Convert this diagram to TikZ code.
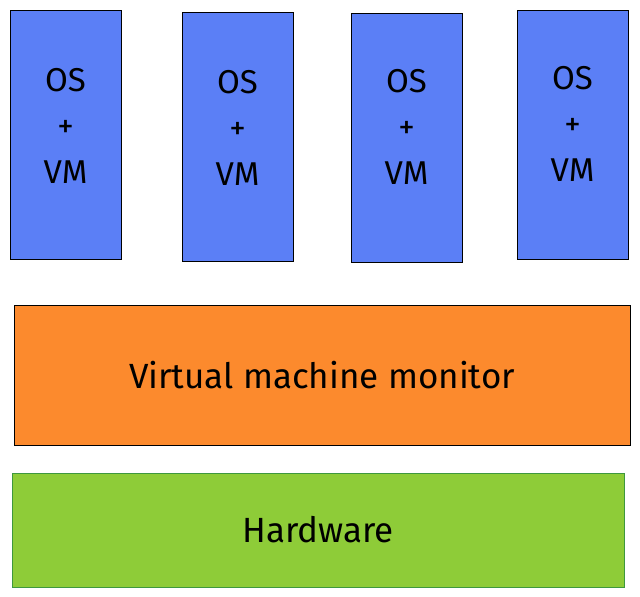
\documentclass[tikz,border=0pt]{standalone}
\usepackage{fontspec}
\setmainfont{Fira Sans}
\usetikzlibrary{positioning}
\definecolor{vmblue}{RGB}{91,127,246}
\definecolor{vmmorange}{RGB}{252,138,45}
\definecolor{hwgreen}{RGB}{142,204,56}
\definecolor{hwedge}{RGB}{62,152,62}
\tikzset{
    layer/.style={draw, thick, inner sep=0pt, align=center, font=\fontsize{35}{46}\selectfont},
    vmbox/.style={layer, fill=vmblue, draw=black, minimum width=111pt, minimum height=249pt},
    vmtext/.style={inner sep=0pt, align=center, font=\fontsize{33}{46}\selectfont},
    vmmbox/.style={layer, fill=vmmorange, draw=black, minimum width=616pt, minimum height=140pt},
    hwbox/.style={layer, fill=hwgreen, draw=hwedge, minimum width=612pt, minimum height=114pt}
}

\begin{document}
\begin{tikzpicture}[x=1pt, y=-1pt]
    \useasboundingbox (0,0) rectangle (640,597);
    % guest systems
    \node[vmbox] (vm1) at (65.5,134.5) {};
    \node[vmbox] (vm2) at (237.5,136.5) {};
    \node[vmbox] (vm3) at (406.5,137.5) {};
    \node[vmbox] (vm4) at (572.5,134.5) {};
    \node[vmtext] (vm1txt) at ([yshift=9pt]vm1.center) {OS\\+\\VM};
    \node[vmtext] (vm2txt) at ([yshift=9pt]vm2.center) {OS\\+\\VM};
    \node[vmtext] (vm3txt) at ([yshift=11pt]vm3.center) {OS\\+\\VM};
    \node[vmtext] (vm4txt) at ([yshift=11pt]vm4.center) {OS\\+\\VM};
    % monitor and hardware
    \node[vmmbox] (vmm) at (322,375) {Virtual machine monitor};
    \node[hwbox] (hw) at (318,530) {Hardware};
\end{tikzpicture}
\end{document}
